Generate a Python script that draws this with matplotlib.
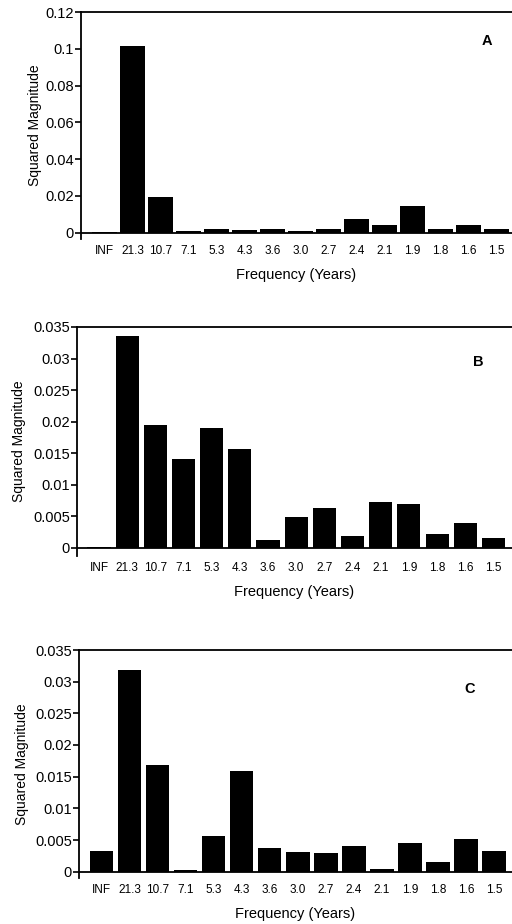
import matplotlib
matplotlib.use("Agg")
import matplotlib.pyplot as plt

plt.rcParams["font.family"] = ["Liberation Sans", "DejaVu Sans"]

periods = ["INF", "21.3", "10.7", "7.1", "5.3", "4.3", "3.6", "3.0",
           "2.7", "2.4", "2.1", "1.9", "1.8", "1.6", "1.5"]

mag_a = [0.0003, 0.1013, 0.0191, 0.0010, 0.0022, 0.0016, 0.0018, 0.0010,
         0.0022, 0.0076, 0.0043, 0.0144, 0.0020, 0.0043, 0.0022]
mag_b = [0.0002, 0.0336, 0.0194, 0.0141, 0.0190, 0.0157, 0.0013, 0.0049,
         0.0063, 0.0018, 0.0073, 0.0069, 0.0022, 0.0039, 0.0015]
mag_c = [0.0032, 0.0318, 0.0168, 0.0003, 0.0056, 0.0159, 0.0038, 0.0031,
         0.0029, 0.0041, 0.0004, 0.0045, 0.0016, 0.0051, 0.0032]

yticks_a = [0, 0.02, 0.04, 0.06, 0.08, 0.1, 0.12]
ylabels_a = ["0", "0.02", "0.04", "0.06", "0.08", "0.1", "0.12"]
yticks_bc = [0, 0.005, 0.01, 0.015, 0.02, 0.025, 0.03, 0.035]
ylabels_bc = ["0", "0.005", "0.01", "0.015", "0.02", "0.025", "0.03", "0.035"]

W, H = 512, 924
fig = plt.figure(figsize=(W / 100, H / 100), dpi=100)


def panel(rect_px, values, yticks, ylabels, ymin, xlim, bar_w, letter, letter_pos, ylabel_x):
    left, top, right, bottom = rect_px
    ax = fig.add_axes([left / W, 1 - bottom / H, (right - left) / W, (bottom - top) / H])
    x = list(range(len(values)))
    ax.axhline(0, color="black", linewidth=1.3, zorder=2)
    ax.bar(x, values, width=bar_w, color="black", zorder=3)
    ax.set_xlim(*xlim)
    ax.set_ylim(ymin, yticks[-1])
    ax.set_yticks(yticks)
    ax.set_yticklabels(ylabels, fontsize=10.5)
    ax.set_xticks(x)
    ax.set_xticklabels(periods, fontsize=8.5)
    ax.tick_params(axis="x", length=0, pad=4)
    ax.tick_params(axis="y", length=4, width=1.2, pad=1, direction="out")
    for s in ("right", "bottom"):
        ax.spines[s].set_visible(False)
    for s in ("left", "top"):
        ax.spines[s].set_linewidth(1.3)
    ax.set_xlabel("Frequency (Years)", fontsize=10.5, labelpad=8)
    ax.set_ylabel("Squared Magnitude", fontsize=10)
    # ylabel anchors on its right edge, so shift by half the text height
    ax.yaxis.set_label_coords((ylabel_x + 7 - left) / (right - left), 0.5)
    ax.text(letter_pos[0] / W, 1 - letter_pos[1] / H, letter, transform=fig.transFigure,
            fontsize=10.5, fontweight="bold", ha="center", va="center")
    return ax


panel((81, 12, 512, 239), mag_a, yticks_a, ylabels_a, -0.0035,
      (-0.84, 14.55), 0.87, "A", (487, 41), 35)
panel((77, 327, 512, 556), mag_b, yticks_bc, ylabels_bc, -0.0013,
      (-0.78, 14.66), 0.82, "B", (478, 362), 19)
panel((79, 650, 512, 878), mag_c, yticks_bc, ylabels_bc, -0.001,
      (-0.81, 14.64), 0.83, "C", (470, 689), 22)

fig.savefig("out.png", dpi=100, facecolor="white")
